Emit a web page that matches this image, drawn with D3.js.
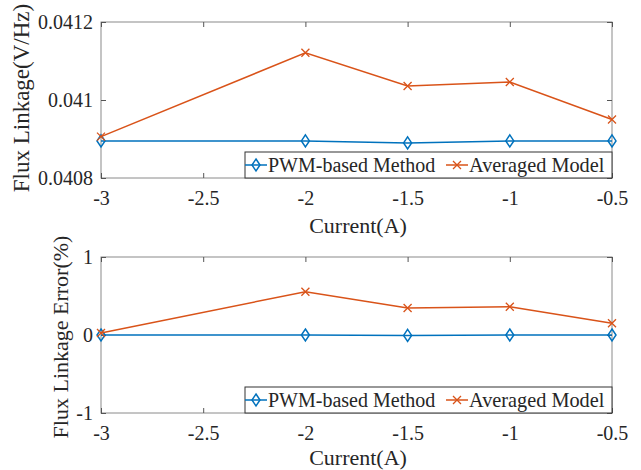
<!DOCTYPE html>
<html>
<head>
<meta charset="utf-8">
<script src="https://cdn.jsdelivr.net/npm/d3@7"></script>
<style>
  body { margin: 0; background: #fff; }
  text { font-family: "Liberation Serif", "Times New Roman", serif; fill: #262626; }
</style>
</head>
<body>
<svg id="chart" width="641" height="470"></svg>
<script>
// data
var current = [-3, -2, -1.5, -1, -0.5];
var fluxPwm = [0.040895, 0.040895, 0.04089, 0.040895, 0.040895];
var fluxAvg = [0.040906, 0.041121, 0.041036, 0.041046, 0.04095];
var errPwm = [0, 0, -0.005, 0, 0];
var errAvg = [0.025, 0.555, 0.346, 0.363, 0.15];
var xTicks = [-3, -2.5, -2, -1.5, -1, -0.5];
var fluxTicks = [0.0408, 0.041, 0.0412];
var errTicks = [-1, 0, 1];
var seriesNames = ["PWM-based Method", "Averaged Model"];

var blue = "#0072BD", orange = "#D95319";

var svg = d3.select("#chart");

var left = 101, right = 612;

function drawPanel(opt) {
    var x = d3.scaleLinear().domain([-3, -0.5]).range([left, right]);
    var y = d3.scaleLinear().domain(opt.domain).range([opt.bottom, opt.top]);
    var g = svg.append("g");

    // box
    g.append("rect")
        .attr("x", left).attr("y", opt.top)
        .attr("width", right - left).attr("height", opt.bottom - opt.top)
        .attr("fill", "none").attr("stroke", "#8a8a8a").attr("stroke-width", 1);

    // x axis
    var xAxis = d3.axisBottom(x).tickValues(xTicks).tickSize(-5).tickSizeOuter(0)
        .tickFormat(function (d) { return d; });
    var xg = g.append("g").attr("transform", "translate(0," + opt.bottom + ")").call(xAxis);
    xg.select(".domain").remove();
    xg.selectAll("line").attr("stroke", "#555");
    xg.selectAll("text").attr("dy", "0.71em").attr("y", 13).style("font-size", "20px").style("fill", "#262626");

    // top ticks
    var xTop = d3.axisTop(x).tickValues(xTicks).tickSize(-5).tickSizeOuter(0).tickFormat("");
    var xt = g.append("g").attr("transform", "translate(0," + opt.top + ")").call(xTop);
    xt.select(".domain").remove();
    xt.selectAll("line").attr("stroke", "#555");

    // y axis
    var yAxis = d3.axisLeft(y).tickValues(opt.ticks).tickSize(-5).tickSizeOuter(0)
        .tickFormat(function (d) { return d; });
    var yg = g.append("g").attr("transform", "translate(" + left + ",0)").call(yAxis);
    yg.select(".domain").remove();
    yg.selectAll("line").attr("stroke", "#555");
    yg.selectAll("text").attr("x", -8).style("font-size", "20px").style("fill", "#262626");

    var yRight = d3.axisRight(y).tickValues(opt.ticks).tickSize(-5).tickSizeOuter(0).tickFormat("");
    var yr = g.append("g").attr("transform", "translate(" + right + ",0)").call(yRight);
    yr.select(".domain").remove();
    yr.selectAll("line").attr("stroke", "#555");

    // labels
    g.append("text")
        .attr("x", 358).attr("y", opt.bottom + opt.xlabDy)
        .attr("text-anchor", "middle").style("font-size", "22px")
        .text("Current(A)");
    g.append("text")
        .attr("transform", "translate(" + opt.ylabX + "," + opt.ylabY + ") rotate(-90)")
        .attr("text-anchor", "middle").style("font-size", opt.ylabSize)
        .text(opt.ylabel);

    var line = d3.line()
        .x(function (d, i) { return x(current[i]); })
        .y(function (d) { return y(d); });

    // pwm series
    g.append("path").datum(opt.pwm)
        .attr("d", line).attr("fill", "none")
        .attr("stroke", blue).attr("stroke-width", 1.5);
    g.selectAll(".dia").data(opt.pwm).enter().append("path")
        .attr("transform", function (d, i) { return "translate(" + x(current[i]) + "," + y(d) + ")"; })
        .attr("d", "M0,-6L4,0L0,6L-4,0Z")
        .attr("fill", "none").attr("stroke", blue).attr("stroke-width", 1.5);

    // averaged series
    g.append("path").datum(opt.avg)
        .attr("d", line).attr("fill", "none")
        .attr("stroke", orange).attr("stroke-width", 1.5);
    g.selectAll(".crs").data(opt.avg).enter().append("path")
        .attr("transform", function (d, i) { return "translate(" + x(current[i]) + "," + y(d) + ")"; })
        .attr("d", "M-4,-4L4,4M-4,4L4,-4")
        .attr("fill", "none").attr("stroke", orange).attr("stroke-width", 1.3);

    // legend
    var lg = g.append("g").attr("transform", "translate(245," + (opt.bottom - 26) + ")");
    lg.append("rect").attr("width", right - 245).attr("height", 26)
        .attr("fill", "#fff").attr("stroke", "#333").attr("stroke-width", 1);
    lg.append("line").attr("x1", 0).attr("x2", 22).attr("y1", 13).attr("y2", 13)
        .attr("stroke", blue).attr("stroke-width", 1.5);
    lg.append("path").attr("transform", "translate(11,13)").attr("d", "M0,-6L4,0L0,6L-4,0Z")
        .attr("fill", "none").attr("stroke", blue).attr("stroke-width", 1.5);
    lg.append("text").attr("x", 23).attr("y", 20).style("font-size", "20px").text(seriesNames[0]);
    lg.append("line").attr("x1", 201).attr("x2", 223).attr("y1", 13).attr("y2", 13)
        .attr("stroke", orange).attr("stroke-width", 1.5);
    lg.append("path").attr("transform", "translate(212,13)").attr("d", "M-4,-4L4,4M-4,4L4,-4")
        .attr("fill", "none").attr("stroke", orange).attr("stroke-width", 1.3);
    lg.append("text").attr("x", 224).attr("y", 20).style("font-size", "20.3px").text(seriesNames[1]);
}

drawPanel({
    top: 22, bottom: 178, domain: [0.0408, 0.0412], ticks: fluxTicks,
    pwm: fluxPwm, avg: fluxAvg, xlabDy: 55,
    ylabel: "Flux Linkage(V/Hz)", ylabX: 29, ylabY: 98, ylabSize: "23px"
});

drawPanel({
    top: 257, bottom: 413, domain: [-1, 1], ticks: errTicks,
    pwm: errPwm, avg: errAvg, xlabDy: 52,
    ylabel: "Flux Linkage Error(%)", ylabX: 68, ylabY: 337, ylabSize: "22px"
});
</script>
</body>
</html>
